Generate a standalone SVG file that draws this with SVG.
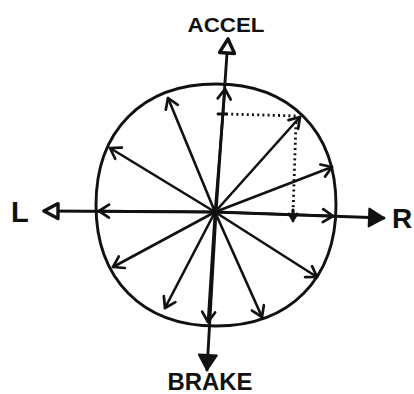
<svg xmlns="http://www.w3.org/2000/svg" width="414" height="394" viewBox="0 0 414 394">
  <style>
    .ln { fill: none; stroke: #111; stroke-width: 2.9; stroke-linecap: round; stroke-linejoin: round; }
    .sp { fill: none; stroke: #111; stroke-width: 2.6; stroke-linecap: round; marker-end: url(#chev); }
    .dot { fill: none; stroke: #111; stroke-width: 2.8; stroke-dasharray: 2 3.2; }
    .lbl { font-family: "Liberation Sans", Arial, sans-serif; font-weight: bold; fill: #111; }
  </style>
  <defs>
    <marker id="chev" viewBox="-14 -10 18 20" refX="0" refY="0" markerWidth="18" markerHeight="20" orient="auto" markerUnits="userSpaceOnUse">
      <path d="M-10,-6.5 L0,0 L-10,6.5" fill="none" stroke="#111" stroke-width="2.7" stroke-linecap="round" stroke-linejoin="round"/>
    </marker>
    <marker id="triOpen" viewBox="-20 -12 24 24" refX="0" refY="0" markerWidth="24" markerHeight="24" orient="auto" markerUnits="userSpaceOnUse">
      <path d="M0,0 L-14,-7.5 L-14,7.5 Z" fill="#fff" stroke="#111" stroke-width="3.4" stroke-linejoin="round"/>
    </marker>
    <marker id="triFill" viewBox="-20 -12 24 24" refX="0" refY="0" markerWidth="24" markerHeight="24" orient="auto" markerUnits="userSpaceOnUse">
      <path d="M0,0 L-15,-9 L-15,9 Z" fill="#111" stroke="#111" stroke-width="2" stroke-linejoin="round"/>
    </marker>
  </defs>

  <g id="circle">
    <path class="ln" d="M 216 84 C 290 84, 336 131, 336 205 C 336 279, 290 326, 216 326 C 142 326, 96 279, 96 205 C 96 131, 142 84, 216 84 Z" stroke-width="3.2"/>
  </g>

  <g id="connectors">
    <!-- axes -->
    <line class="ln" x1="216" y1="212" x2="228" y2="39" marker-end="url(#triOpen)"/>
    <line class="ln" x1="216" y1="212" x2="207" y2="370" marker-end="url(#triFill)"/>
    <line class="ln" x1="215" y1="212" x2="44" y2="211" marker-end="url(#triOpen)"/>
    <line class="ln" x1="215" y1="212" x2="384" y2="218" marker-end="url(#triFill)"/>
    <!-- spokes -->
    <line class="sp" x1="215" y1="212" x2="225" y2="89"/>
    <line class="sp" x1="215" y1="212" x2="168" y2="98"/>
    <line class="sp" x1="215" y1="212" x2="110" y2="148"/>
    <line class="sp" x1="215" y1="212" x2="99" y2="211"/>
    <line class="sp" x1="215" y1="212" x2="113" y2="267"/>
    <line class="sp" x1="215" y1="212" x2="165" y2="308"/>
    <line class="sp" x1="215" y1="212" x2="208" y2="322"/>
    <line class="sp" x1="215" y1="212" x2="262" y2="317" stroke="#333"/>
    <line class="sp" x1="215" y1="212" x2="317" y2="277" stroke="#333"/>
    <line class="sp" x1="215" y1="212" x2="333" y2="216"/>
    <line class="sp" x1="215" y1="212" x2="332" y2="167"/>
    <line class="sp" x1="215" y1="212" x2="300" y2="117" stroke="#333"/>
    <!-- dotted components -->
    <line class="ln" x1="218" y1="114" x2="226" y2="114"/>
    <line class="dot" x1="226" y1="114" x2="298" y2="116"/>
    <line class="dot" x1="296" y1="122" x2="293" y2="214"/>
    <path class="ln" d="M 289 214 L 293 220 L 297 214 M 293 210 L 293 221"/>
  </g>

  <g id="label-accel">
    <text class="lbl" x="226" y="32" font-size="21" text-anchor="middle" textLength="77" lengthAdjust="spacingAndGlyphs">ACCEL</text>
  </g>
  <g id="label-brake">
    <text class="lbl" x="210" y="390" font-size="23" text-anchor="middle" textLength="85" lengthAdjust="spacingAndGlyphs">BRAKE</text>
  </g>
  <g id="label-l">
    <text class="lbl" x="11" y="222" font-size="29">L</text>
  </g>
  <g id="label-r">
    <text class="lbl" x="392" y="228" font-size="28">R</text>
  </g>
</svg>
